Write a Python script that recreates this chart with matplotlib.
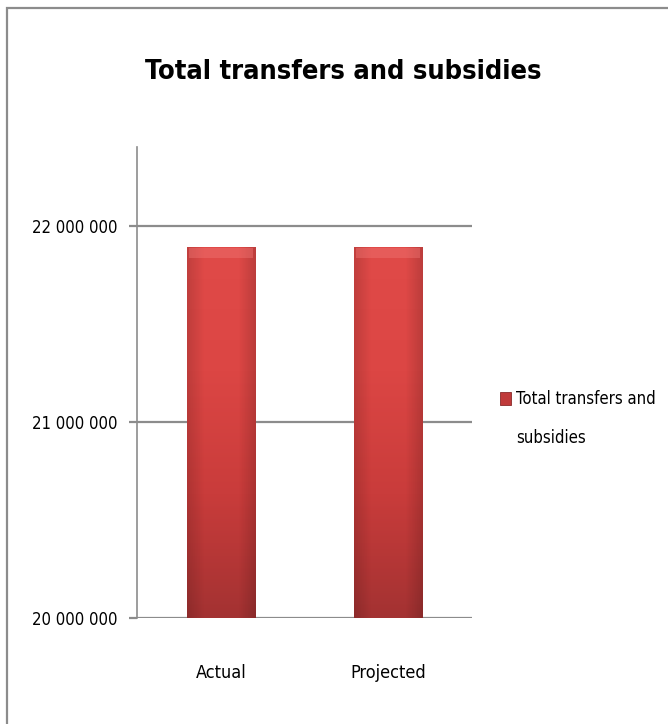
import numpy as np
import matplotlib
matplotlib.use("Agg")
import matplotlib.pyplot as plt
from matplotlib.patches import Rectangle
from matplotlib.colors import LinearSegmentedColormap

plt.rcParams["font.family"] = ["DejaVu Sans"]
plt.rcParams["font.stretch"] = "condensed"

# chart data
categories = ["Actual", "Projected"]
values = [21890000, 21890000]
series_name = "Total transfers and subsidies"
y_ticks = [20000000, 21000000, 22000000]
y_tick_labels = ["20 000 000", "21 000 000", "22 000 000"]

fig = plt.figure(figsize=(6.68, 7.24), dpi=100)

# outer chart frame, running off the right and bottom edges
fig.patches.append(Rectangle((7 / 668, -0.05), 1.2, 1 - 8 / 724 + 0.05,
                             transform=fig.transFigure, fill=False,
                             edgecolor="#8c8c8c", linewidth=1.6, zorder=0))

ax = fig.add_axes([137 / 668, 106 / 724, 335 / 668, 471 / 724])

bar_w = 0.406
x = np.arange(len(categories))
bars = ax.bar(x, values, width=bar_w, bottom=0, color="#d84040",
              edgecolor="none", zorder=2)

# vertical red shading inside each bar
cmap = LinearSegmentedColormap.from_list(
    "redgrad", ["#a33232", "#c93c3b", "#dc4644", "#e04a48"])
grad = np.linspace(0, 1, 256).reshape(-1, 1)
side = LinearSegmentedColormap.from_list(
    "sides", [(0, 0, 0, 0.14), (0, 0, 0, 0), (0, 0, 0, 0),
              (0, 0, 0, 0), (0, 0, 0, 0.16)])
hgrad = np.linspace(0, 1, 256).reshape(1, -1)
for b in bars:
    x0, w, h = b.get_x(), b.get_width(), b.get_height()
    im = ax.imshow(grad, cmap=cmap, aspect="auto", origin="lower",
                   extent=(x0, x0 + w, 20000000, h), zorder=3)
    im.set_clip_path(b)
    # slightly darker rim along the sides
    sh = ax.imshow(hgrad, cmap=side, aspect="auto", origin="lower",
                   extent=(x0, x0 + w, 20000000, h), zorder=3.2)
    sh.set_clip_path(b)
    # soft bevel at the top edge
    ax.add_patch(Rectangle((x0 + w * 0.03, h - 55000), w * 0.94, 50000,
                           facecolor="#f27a78", edgecolor="none",
                           alpha=0.4, zorder=4))

ax.set_xlim(-0.5, 1.5)
ax.set_ylim(20000000, 22400000)
ax.set_yticks(y_ticks)
ax.set_yticklabels(y_tick_labels, fontsize=12)
ax.set_xticks(x)
ax.set_xticklabels(categories, fontsize=13)

ax.yaxis.grid(True, color="#8c8c8c", linewidth=1.6, zorder=1)
ax.set_axisbelow(True)
for s in ["top", "right", "bottom"]:
    ax.spines[s].set_visible(False)
ax.spines["left"].set_color("#8c8c8c")
ax.spines["left"].set_linewidth(1.2)
ax.tick_params(axis="y", length=6, width=1.6, color="#8c8c8c", pad=8)
ax.tick_params(axis="x", length=0, pad=33)

fig.text(343 / 668, 1 - 72 / 724, "Total transfers and subsidies",
         ha="center", va="center", fontsize=19.5, fontweight="bold")

# legend entry
fig.patches.append(Rectangle((500 / 668, 1 - 405 / 724), 11 / 668, 13 / 724,
                             transform=fig.transFigure, facecolor="#c03a3a",
                             edgecolor="#8a2a2a", linewidth=0.6))
fig.text(516 / 668, 1 - 399 / 724, "Total transfers and", ha="left",
         va="center", fontsize=12)
fig.text(516 / 668, 1 - 438 / 724, "subsidies", ha="left",
         va="center", fontsize=12)

fig.savefig("out.png", dpi=100)
